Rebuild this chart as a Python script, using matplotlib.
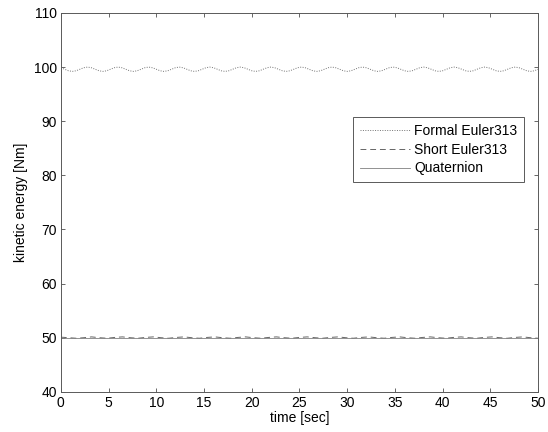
import numpy as np
import matplotlib.pyplot as plt

# time axis [sec]
t_formal = np.linspace(0, 50, 126)
# kinetic energy, formal Euler313 (wavy line near 100)
e_formal = [
    99.88, 99.60, 99.32, 99.20, 99.32, 99.60, 99.88, 100.00,
    99.88, 99.60, 99.32, 99.20, 99.32, 99.60, 99.88, 100.00,
    99.88, 99.60, 99.32, 99.20, 99.32, 99.60, 99.88, 100.00,
    99.88, 99.60, 99.32, 99.20, 99.32, 99.60, 99.88, 100.00,
    99.88, 99.60, 99.32, 99.20, 99.32, 99.60, 99.88, 100.00,
    99.88, 99.60, 99.32, 99.20, 99.32, 99.60, 99.88, 100.00,
    99.88, 99.60, 99.32, 99.20, 99.32, 99.60, 99.88, 100.00,
    99.88, 99.60, 99.32, 99.20, 99.32, 99.60, 99.88, 100.00,
    99.88, 99.60, 99.32, 99.20, 99.32, 99.60, 99.88, 100.00,
    99.88, 99.60, 99.32, 99.20, 99.32, 99.60, 99.88, 100.00,
    99.88, 99.60, 99.32, 99.20, 99.32, 99.60, 99.88, 100.00,
    99.88, 99.60, 99.32, 99.20, 99.32, 99.60, 99.88, 100.00,
    99.88, 99.60, 99.32, 99.20, 99.32, 99.60, 99.88, 100.00,
    99.88, 99.60, 99.32, 99.20, 99.32, 99.60, 99.88, 100.00,
    99.88, 99.60, 99.32, 99.20, 99.32, 99.60, 99.88, 100.00,
    99.88, 99.60, 99.32, 99.20, 99.32, 99.60,
]

# short Euler313 (near 50, small wiggle)
t_short = np.linspace(0, 50, 63)
e_short = [
    50.10, 50.00, 49.90, 50.00, 50.15, 50.00, 49.90, 50.05,
    50.15, 50.00, 49.90, 50.05, 50.15, 50.00, 49.90, 50.05,
    50.15, 50.00, 49.90, 50.05, 50.15, 50.00, 49.90, 50.05,
    50.15, 50.00, 49.90, 50.05, 50.15, 50.00, 49.90, 50.05,
    50.15, 50.00, 49.90, 50.05, 50.15, 50.00, 49.90, 50.05,
    50.15, 50.00, 49.90, 50.05, 50.15, 50.00, 49.90, 50.05,
    50.15, 50.00, 49.90, 50.05, 50.15, 50.00, 49.90, 50.05,
    50.15, 50.00, 49.90, 50.05, 50.15, 50.00, 49.90,
]

# quaternion (flat at 50)
t_quat = [0, 10, 20, 30, 40, 50]
e_quat = [50.0, 50.0, 50.0, 50.0, 50.0, 50.0]

x_ticks = [0, 5, 10, 15, 20, 25, 30, 35, 40, 45, 50]
y_ticks = [40, 50, 60, 70, 80, 90, 100, 110]

plt.rcParams['font.family'] = ['Liberation Sans', 'DejaVu Sans']

fig = plt.figure(figsize=(5.48, 4.32), dpi=100)
ax = fig.add_axes([0.111, 0.093, 0.871, 0.877])

ax.plot(t_formal, e_formal, color='0.45', lw=0.7, ls=(0, (1, 1.5)), label='Formal Euler313')
ax.plot(t_short, e_short, color='0.4', lw=0.7, ls=(0, (6, 4)), label='Short Euler313')
ax.plot(t_quat, e_quat, color='0.5', lw=0.6, ls='-', label='Quaternion')

ax.set_xlim(0, 50)
ax.set_ylim(40, 110)
ax.set_xticks(x_ticks)
ax.set_yticks(y_ticks)
ax.tick_params(direction='in', length=3, width=0.6, top=True, right=True,
               labelsize=10, pad=3, color='0.3')
for s in ax.spines.values():
    s.set_linewidth(0.7)
    s.set_color('0.35')

ax.set_xlabel('time [sec]', fontsize=10, labelpad=1)
ax.set_ylabel('kinetic energy [Nm]', fontsize=10, labelpad=4)

leg = ax.legend(loc='upper left', bbox_to_anchor=(0.612, 0.726), fontsize=10,
                fancybox=False, framealpha=1, edgecolor='0.35',
                handlelength=3.6, borderpad=0.5, labelspacing=0.35,
                handletextpad=0.3, borderaxespad=0)
leg.get_frame().set_linewidth(0.7)

fig.savefig('out.png', dpi=100)
